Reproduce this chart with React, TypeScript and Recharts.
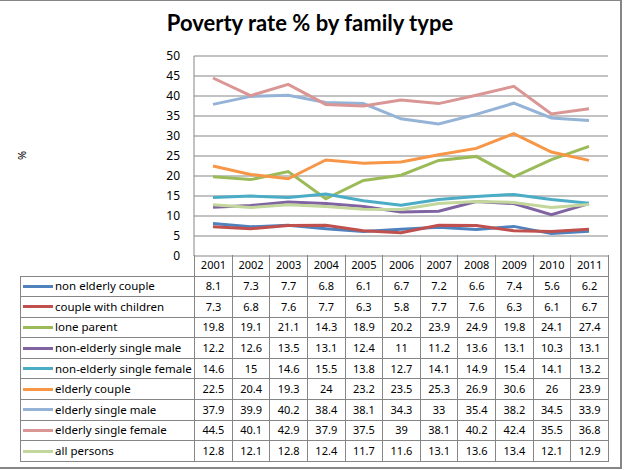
import React from 'react';
import { LineChart, Line, XAxis, YAxis, CartesianGrid } from 'recharts';

const years = ['2001', '2002', '2003', '2004', '2005', '2006', '2007', '2008', '2009', '2010', '2011'];

const nonElderlyCouple = [8.1, 7.3, 7.7, 6.8, 6.1, 6.7, 7.2, 6.6, 7.4, 5.6, 6.2];
const coupleWithChildren = [7.3, 6.8, 7.6, 7.7, 6.3, 5.8, 7.7, 7.6, 6.3, 6.1, 6.7];
const loneParent = [19.8, 19.1, 21.1, 14.3, 18.9, 20.2, 23.9, 24.9, 19.8, 24.1, 27.4];
const nonElderlySingleMale = [12.2, 12.6, 13.5, 13.1, 12.4, 11, 11.2, 13.6, 13.1, 10.3, 13.1];
const nonElderlySingleFemale = [14.6, 15, 14.6, 15.5, 13.8, 12.7, 14.1, 14.9, 15.4, 14.1, 13.2];
const elderlyCouple = [22.5, 20.4, 19.3, 24, 23.2, 23.5, 25.3, 26.9, 30.6, 26, 23.9];
const elderlySingleMale = [37.9, 39.9, 40.2, 38.4, 38.1, 34.3, 33, 35.4, 38.2, 34.5, 33.9];
const elderlySingleFemale = [44.5, 40.1, 42.9, 37.9, 37.5, 39, 38.1, 40.2, 42.4, 35.5, 36.8];
const allPersons = [12.8, 12.1, 12.8, 12.4, 11.7, 11.6, 13.1, 13.6, 13.4, 12.1, 12.9];

const yTicks = [0, 5, 10, 15, 20, 25, 30, 35, 40, 45, 50];

const series = [
  { key: 'nec', name: 'non elderly couple', values: nonElderlyCouple, color: '#4F81BD' },
  { key: 'cwc', name: 'couple with children', values: coupleWithChildren, color: '#C0504D' },
  { key: 'lp', name: 'lone parent', values: loneParent, color: '#9BBB59' },
  { key: 'nesm', name: 'non-elderly single male', values: nonElderlySingleMale, color: '#8064A2' },
  { key: 'nesf', name: 'non-elderly single female', values: nonElderlySingleFemale, color: '#4BACC6' },
  { key: 'ec', name: 'elderly couple', values: elderlyCouple, color: '#F79646' },
  { key: 'esm', name: 'elderly single male', values: elderlySingleMale, color: '#95B3D7' },
  { key: 'esf', name: 'elderly single female', values: elderlySingleFemale, color: '#D99694' },
  { key: 'all', name: 'all persons', values: allPersons, color: '#C3D69B' },
];

const data = years.map((year, i) => {
  const row: Record<string, string | number> = { year };
  series.forEach((s) => {
    row[s.key] = s.values[i];
  });
  return row;
});

const gridColor = '#868686';
const tableFont = '"Noto Sans", sans-serif';

export default function App() {
  const cell: React.CSSProperties = {
    border: `1px solid ${gridColor}`,
    textAlign: 'center',
    padding: 0,
    fontSize: 11,
    lineHeight: '14px',
    color: '#000',
  };
  return (
    <div
      style={{
        position: 'absolute',
        left: 0,
        top: 0,
        width: 624,
        height: 470,
        background: '#fff',
        fontFamily: tableFont,
        overflow: 'hidden',
      }}
    >
      <div
        style={{
          position: 'absolute',
          left: -2,
          top: 0,
          width: 624,
          height: 469,
          boxSizing: 'border-box',
          borderTop: `1px solid ${gridColor}`,
          borderRight: `2px solid ${gridColor}`,
          borderBottom: `2px solid ${gridColor}`,
        }}
      />
      <div
        style={{
          position: 'absolute',
          top: 9,
          left: 0,
          width: 620,
          textAlign: 'center',
          fontFamily: 'Lato, sans-serif',
          fontWeight: 'bold',
          fontSize: 22,
          color: '#000',
        }}
      >
        Poverty rate % by family type
      </div>
      <div
        style={{
          position: 'absolute',
          left: 17,
          top: 148,
          fontSize: 11,
          transform: 'rotate(-90deg)',
          color: '#000',
        }}
      >
        %
      </div>
      <div style={{ position: 'absolute', left: 0, top: 0 }}>
        <LineChart width={624} height={272} data={data} margin={{ top: 56, right: 16, left: 0, bottom: 16 }}>
          <CartesianGrid vertical={false} stroke={gridColor} strokeWidth={1} />
          <XAxis dataKey="year" hide padding={{ left: 19, right: 19 }} />
          <YAxis
            width={194}
            domain={[0, 50]}
            ticks={yTicks}
            interval={0}
            axisLine={{ stroke: gridColor }}
            tickLine={false}
            tickMargin={8}
            tick={{ fill: '#000', fontSize: 12, fontFamily: tableFont }}
          />
          {series.map((s) => (
            <Line
              key={s.key}
              dataKey={s.key}
              name={s.name}
              stroke={s.color}
              strokeWidth={3}
              dot={false}
              type="linear"
              isAnimationActive={false}
            />
          ))}
        </LineChart>
      </div>
      <table
        style={{
          position: 'absolute',
          left: 20,
          top: 255,
          borderCollapse: 'collapse',
          tableLayout: 'fixed',
          width: 589,
          fontFamily: tableFont,
        }}
      >
        <colgroup>
          <col style={{ width: 174 }} />
          {years.map((y) => (
            <col key={y} style={{ width: 37.6 }} />
          ))}
        </colgroup>
        <tbody>
          <tr style={{ height: 21 }}>
            <td style={{ padding: 0 }} />
            {years.map((y) => (
              <td key={y} style={{ ...cell, borderTop: 'none' }}>
                {y}
              </td>
            ))}
          </tr>
          {series.map((s) => (
            <tr key={s.key} style={{ height: 20.6 }}>
              <td style={{ ...cell, textAlign: 'left', whiteSpace: 'nowrap' }}>
                <div style={{ display: 'flex', alignItems: 'center' }}>
                  <span
                    style={{
                      display: 'inline-block',
                      width: 30,
                      height: 3,
                      background: s.color,
                      marginLeft: 2,
                      marginRight: 2,
                    }}
                  />
                  <span style={{ fontSize: 11.5 }}>{s.name}</span>
                </div>
              </td>
              {s.values.map((v, i) => (
                <td key={i} style={cell}>
                  {v}
                </td>
              ))}
            </tr>
          ))}
        </tbody>
      </table>
    </div>
  );
}
